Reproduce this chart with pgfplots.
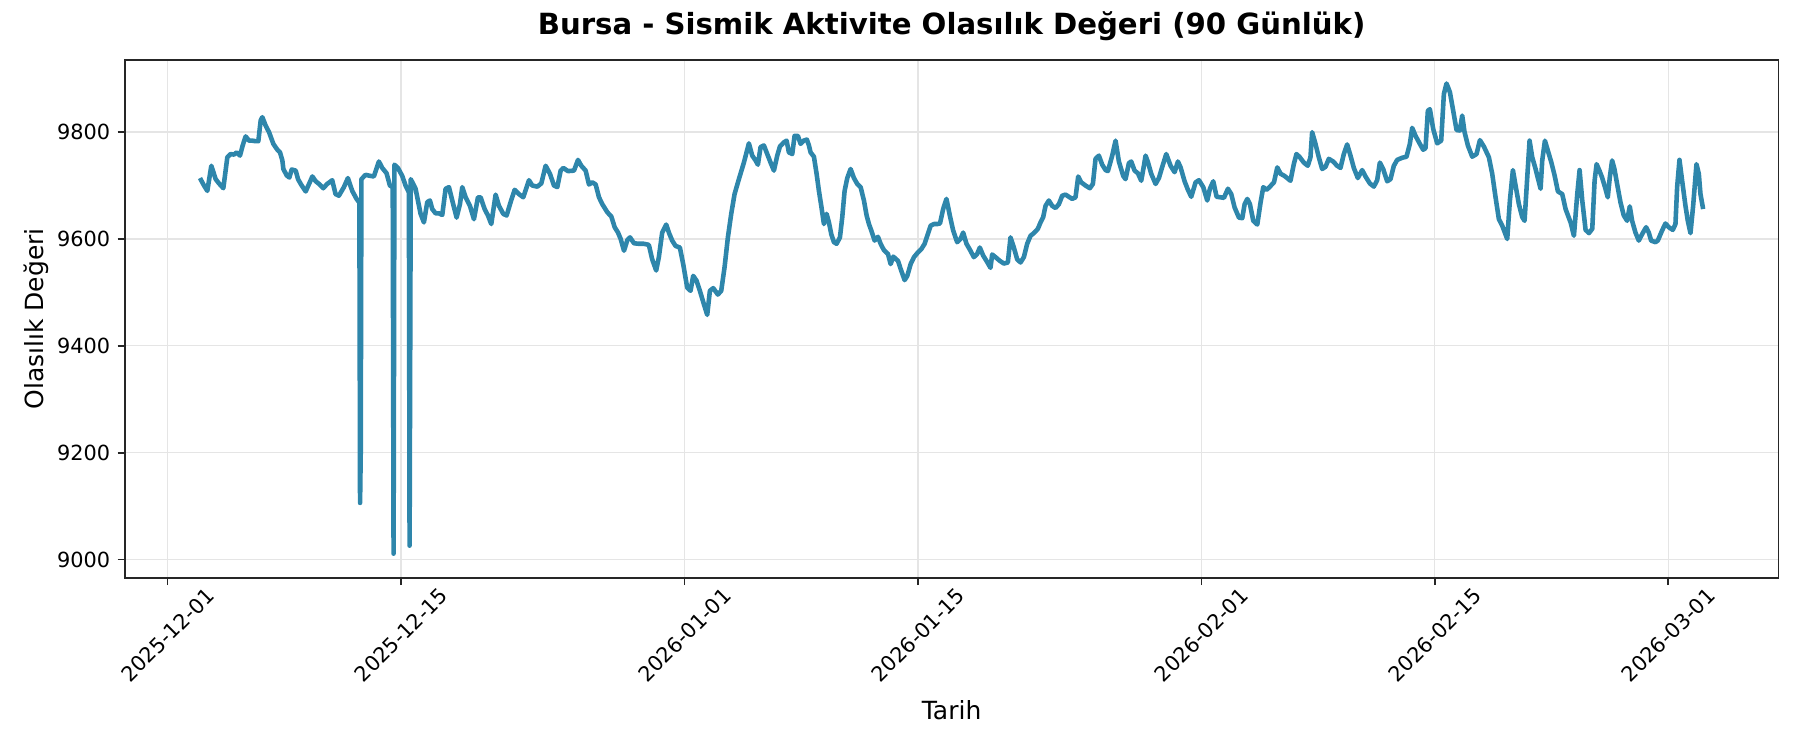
\documentclass[border=0pt]{standalone}
\usepackage{fontspec}
\setmainfont{DejaVu Sans}
\usepackage{pgfplots}
\usepackage{pgfplotstable}
\pgfplotsset{compat=1.18}
\definecolor{lineblue}{HTML}{2E86AB}

% day = days since 2025-12-01
\pgfplotstableread{
day value
1.94 9714
2.18 9700
2.38 9690
2.62 9737
2.88 9712
3.08 9704
3.34 9695
3.58 9753
3.78 9759
3.98 9758
4.14 9762
4.34 9756
4.50 9775
4.68 9792
4.88 9784
5.08 9784
5.28 9783
5.44 9783
5.58 9822
5.68 9828
5.88 9812
6.08 9800
6.34 9778
6.58 9767
6.74 9762
6.88 9747
6.94 9731
7.14 9719
7.30 9715
7.44 9730
7.68 9728
7.82 9712
8.02 9701
8.28 9689
8.48 9703
8.68 9717
8.88 9708
9.08 9703
9.33 9695
9.57 9703
9.87 9710
10.07 9684
10.27 9681
10.57 9697
10.81 9714
11.07 9690
11.33 9675
11.50 9668
11.54 9106
11.58 9200
11.62 9712
11.87 9720
12.17 9718
12.37 9717
12.67 9745
12.87 9733
13.13 9723
13.33 9700
13.50 9697
13.55 9011
13.60 9739
13.81 9733
14.07 9718
14.27 9700
14.47 9687
14.51 9026
14.58 9712
14.87 9694
15.01 9672
15.17 9647
15.37 9631
15.57 9669
15.73 9672
15.87 9656
16.07 9648
16.27 9648
16.47 9645
16.67 9694
16.87 9697
17.07 9672
17.33 9640
17.53 9665
17.67 9697
17.87 9678
18.13 9662
18.37 9637
18.61 9678
18.77 9678
19.01 9656
19.21 9644
19.41 9628
19.67 9683
19.87 9662
20.13 9647
20.33 9644
20.57 9669
20.81 9692
21.07 9684
21.33 9678
21.53 9697
21.67 9710
21.87 9700
22.17 9698
22.41 9704
22.67 9737
22.93 9722
23.17 9700
23.37 9697
23.57 9728
23.73 9733
24.01 9727
24.37 9728
24.61 9748
24.81 9737
25.07 9728
25.27 9702
25.47 9706
25.67 9702
25.87 9678
26.07 9665
26.37 9650
26.61 9642
26.81 9622
27.01 9612
27.17 9600
27.37 9578
27.57 9598
27.73 9603
27.97 9592
28.26 9591
28.56 9591
28.86 9589
29.06 9562
29.30 9541
29.46 9566
29.66 9612
29.90 9627
30.06 9612
30.26 9597
30.46 9587
30.72 9584
30.92 9553
31.16 9509
31.36 9503
31.52 9531
31.72 9522
31.92 9503
32.16 9478
32.36 9458
32.52 9503
32.72 9508
33.00 9496
33.20 9503
33.40 9547
33.60 9603
33.80 9647
34.00 9684
34.26 9712
34.56 9743
34.86 9779
35.06 9756
35.26 9747
35.40 9739
35.56 9772
35.76 9775
35.96 9759
36.16 9743
36.36 9728
36.56 9756
36.72 9773
36.96 9781
37.12 9784
37.26 9762
37.46 9759
37.60 9793
37.80 9793
37.96 9778
38.14 9784
38.34 9786
38.46 9775
38.56 9762
38.76 9754
38.92 9722
39.06 9690
39.20 9662
39.36 9628
39.52 9647
39.66 9631
39.80 9609
39.96 9594
40.12 9591
40.32 9603
40.46 9641
40.60 9690
40.76 9714
40.96 9731
41.16 9714
41.36 9703
41.56 9697
41.76 9672
41.92 9644
42.06 9628
42.20 9616
42.40 9597
42.60 9604
42.76 9591
42.96 9579
43.20 9572
43.36 9553
43.52 9567
43.80 9559
43.96 9544
44.20 9523
44.36 9531
44.56 9553
44.76 9566
45.00 9575
45.20 9581
45.40 9591
45.56 9606
45.76 9625
45.96 9628
46.16 9628
46.32 9629
46.51 9656
46.71 9675
46.91 9644
47.11 9616
47.35 9594
47.55 9600
47.71 9612
47.91 9591
48.15 9578
48.35 9566
48.55 9572
48.71 9584
48.91 9569
49.11 9559
49.35 9546
49.45 9571
49.65 9566
49.91 9559
50.15 9554
50.39 9556
50.55 9603
50.75 9584
50.95 9562
51.15 9556
51.35 9566
51.55 9591
51.75 9606
51.95 9611
52.19 9619
52.35 9631
52.51 9641
52.65 9662
52.85 9672
53.05 9662
53.25 9658
53.45 9665
53.65 9681
53.85 9683
54.05 9679
54.25 9675
54.45 9678
54.61 9717
54.79 9706
55.05 9700
55.31 9695
55.49 9703
55.65 9750
55.85 9756
56.05 9739
56.25 9729
56.39 9727
56.65 9756
56.85 9784
57.05 9745
57.31 9718
57.45 9712
57.65 9742
57.79 9745
57.99 9728
58.19 9723
58.39 9709
58.55 9737
58.65 9756
58.79 9744
58.99 9722
59.25 9703
59.45 9714
59.65 9735
59.89 9759
60.15 9737
60.39 9725
60.59 9745
60.75 9734
60.99 9708
61.19 9692
61.39 9679
61.65 9706
61.85 9710
62.11 9697
62.35 9672
62.51 9694
62.71 9708
62.91 9679
63.15 9678
63.35 9677
63.59 9694
63.79 9684
63.99 9659
64.25 9640
64.45 9639
64.59 9665
64.75 9675
64.91 9665
65.11 9634
65.35 9627
65.55 9669
65.71 9697
65.91 9692
66.11 9698
66.35 9706
66.55 9734
66.75 9722
66.98 9718
67.34 9709
67.54 9740
67.70 9759
67.90 9753
68.14 9743
68.38 9737
68.54 9753
68.64 9800
68.84 9778
69.04 9753
69.24 9731
69.44 9735
69.64 9750
69.90 9745
70.14 9737
70.34 9733
70.54 9759
70.74 9777
70.94 9756
71.14 9733
71.38 9714
71.64 9729
71.84 9717
72.10 9704
72.34 9698
72.54 9710
72.70 9743
72.90 9731
73.14 9708
73.34 9712
73.54 9737
73.74 9748
74.04 9752
74.30 9754
74.50 9778
74.64 9808
74.84 9793
75.10 9778
75.30 9767
75.44 9770
75.58 9840
75.70 9843
75.90 9806
76.14 9779
76.38 9784
76.54 9871
76.70 9891
76.90 9875
77.10 9840
77.30 9804
77.50 9803
77.64 9831
77.78 9800
77.98 9775
78.24 9754
78.50 9759
78.70 9785
78.94 9773
79.24 9753
79.44 9722
79.64 9678
79.84 9637
80.04 9625
80.34 9600
80.50 9672
80.68 9729
80.84 9700
81.04 9665
81.24 9641
81.38 9634
81.54 9715
81.68 9784
81.84 9753
82.04 9731
82.34 9694
82.44 9747
82.60 9784
82.78 9765
82.98 9744
83.18 9719
83.38 9689
83.64 9684
83.84 9656
84.14 9631
84.34 9606
84.54 9684
84.68 9729
84.84 9672
85.04 9617
85.24 9611
85.44 9619
85.58 9709
85.70 9740
85.87 9728
86.03 9715
86.23 9694
86.37 9678
86.49 9715
86.63 9747
86.77 9731
86.93 9703
87.13 9669
87.33 9644
87.53 9634
87.69 9661
87.83 9634
88.03 9612
88.23 9597
88.43 9609
88.67 9622
88.83 9612
88.97 9597
89.23 9594
89.37 9597
89.63 9616
89.83 9629
90.03 9622
90.27 9617
90.43 9628
90.53 9697
90.67 9748
90.83 9709
91.03 9662
91.17 9634
91.33 9611
91.49 9662
91.69 9740
91.83 9722
91.93 9684
92.09 9656
}\bursa

\begin{document}
\begin{tikzpicture}
\path[use as bounding box] (0,0) rectangle (864pt,360pt);
\begin{axis}[
    at={(59.9pt,82.7pt)}, anchor=south west,
    scale only axis,
    width=793.7pt, height=248.5pt,
    xmin=-2.57, xmax=96.6,
    ymin=8966, ymax=9935,
    xtick={0,14,31,45,62,76,90},
    xticklabels={2025-12-01,2025-12-15,2026-01-01,2026-01-15,2026-02-01,2026-02-15,2026-03-01},
    ytick={9000,9200,9400,9600,9800},
    tick pos=left,
    tick align=outside,
    major tick length=3.5pt,
    tick style={black!85, line width=0.8pt},
    axis line style={black!85, line width=0.8pt},
    grid=major,
    grid style={gray!20, line width=0.6pt},
    /pgf/number format/assume math mode=true,
    /pgf/number format/1000 sep={},
    yticklabel style={font=\fontsize{10}{12}\selectfont},
    xticklabel style={font=\fontsize{10}{12}\selectfont, rotate=45, anchor=center},
    xticklabel shift=24pt,
    title={Bursa - Sismik Aktivite Olasılık Değeri (90 Günlük)},
    title style={font=\bfseries\fontsize{14}{17}\selectfont, at={(0.5,1)}, anchor=base, yshift=6pt},
    xlabel={Tarih},
    ylabel={Olasılık Değeri},
    label style={font=\fontsize{12}{14}\selectfont},
    ylabel style={yshift=-2.6pt},
]
\addplot[lineblue, line width=2.2pt, line join=round, mark=none] table[x=day, y=value] {\bursa};
\end{axis}
\end{tikzpicture}
\end{document}
